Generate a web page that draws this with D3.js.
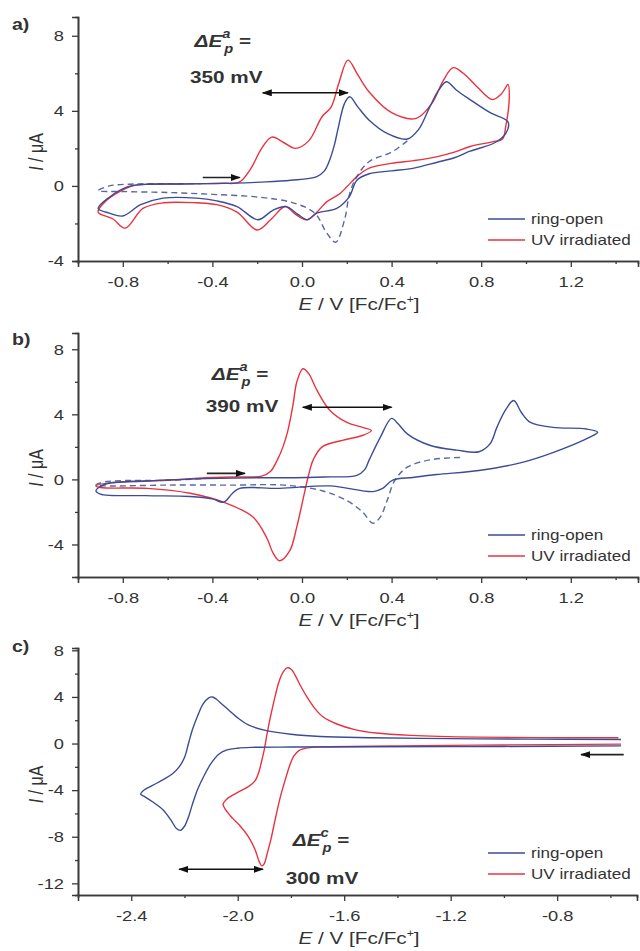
<!DOCTYPE html>
<html>
<head>
<meta charset="utf-8">
<script src="https://cdn.jsdelivr.net/npm/d3@7"></script>
<style>
  body { margin: 0; background: #fff; }
  svg text { font-family: "Liberation Sans", Arial, sans-serif; fill: #333; }
</style>
</head>
<body>
<svg id="chart" width="640" height="951"></svg>
<script>
// curves are [E (V vs Fc/Fc+), I (uA)] pairs in scan order

// a) ring-open (solid), ring-open reversed early (dashed), UV irradiated
const aOpen = [[-0.43,0.12],[-0.3,0.15],[-0.19,0.2],[-0.05,0.3],[0.066,0.5],[0.1,0.8],[0.124,1.4],[0.145,2.2],[0.16,3.0],[0.19,4.4],[0.213,4.75],[0.25,4.2],[0.30,3.5],[0.38,2.8],[0.47,2.5],[0.52,3.0],[0.57,4.2],[0.61,5.1],[0.645,5.55],[0.69,5.1],[0.75,4.6],[0.84,3.9],[0.92,3.4],[0.91,2.8],[0.86,2.3],[0.75,1.85],[0.68,1.5],[0.6,1.25],[0.5,0.95],[0.4,0.8],[0.3,0.65],[0.245,0.3],[0.21,-0.6],[0.155,-1.2],[0.066,-1.45],[0.026,-1.8],[-0.02,-1.5],[-0.07,-1.1],[-0.13,-1.3],[-0.197,-1.8],[-0.29,-1.1],[-0.38,-0.8],[-0.47,-0.65],[-0.62,-0.65],[-0.72,-1.0],[-0.8,-1.6],[-0.86,-1.45],[-0.91,-1.2],[-0.86,-0.6],[-0.78,-0.05],[-0.7,0.08],[-0.55,0.1],[-0.43,0.12]];
const aOpenDash = [[0.47,2.4],[0.40,1.8],[0.30,1.3],[0.245,0.5],[0.213,-0.4],[0.19,-1.8],[0.15,-3.0],[0.11,-2.5],[0.057,-1.45],[-0.04,-0.9],[-0.19,-0.6],[-0.4,-0.45],[-0.6,-0.35],[-0.8,-0.3],[-0.91,-0.25],[-0.86,0.0],[-0.75,0.1],[-0.6,0.12],[-0.45,0.12]];
const aUV = [[-0.43,0.12],[-0.35,0.14],[-0.28,0.2],[-0.23,0.9],[-0.18,2.0],[-0.135,2.6],[-0.08,2.3],[-0.03,2.0],[0.03,2.4],[0.09,3.7],[0.13,4.2],[0.165,5.5],[0.205,6.7],[0.25,5.9],[0.30,5.0],[0.40,3.9],[0.51,3.6],[0.58,4.4],[0.63,5.6],[0.675,6.3],[0.72,6.0],[0.78,5.3],[0.85,4.6],[0.89,4.9],[0.92,5.4],[0.925,4.6],[0.91,3.2],[0.895,2.5],[0.85,2.35],[0.75,2.1],[0.68,1.8],[0.6,1.55],[0.5,1.35],[0.4,1.2],[0.3,0.95],[0.25,0.55],[0.2,-0.05],[0.17,-0.4],[0.11,-0.85],[0.066,-1.4],[0.02,-1.8],[-0.03,-1.5],[-0.075,-1.1],[-0.14,-1.8],[-0.2,-2.35],[-0.29,-1.4],[-0.38,-1.0],[-0.47,-0.9],[-0.62,-0.9],[-0.71,-1.2],[-0.79,-2.25],[-0.845,-1.75],[-0.91,-1.4],[-0.88,-0.85],[-0.77,-0.05],[-0.7,0.08],[-0.55,0.1],[-0.43,0.12]];

// b)
const bOpen = [[-0.43,0.05],[-0.2,0.1],[-0.08,0.1],[0.1,0.15],[0.245,0.25],[0.28,0.6],[0.3,1.2],[0.35,2.6],[0.40,3.75],[0.43,3.4],[0.47,2.8],[0.57,2.1],[0.69,1.8],[0.79,1.7],[0.84,2.2],[0.87,3.2],[0.91,4.3],[0.945,4.85],[0.98,4.1],[1.02,3.5],[1.12,3.2],[1.27,3.1],[1.32,2.9],[1.285,2.6],[1.12,1.65],[0.97,1.0],[0.79,0.55],[0.6,0.3],[0.495,0.12],[0.405,-0.05],[0.36,-0.55],[0.317,-0.75],[0.124,-0.4],[-0.1,-0.55],[-0.278,-0.55],[-0.31,-0.85],[-0.35,-1.4],[-0.4,-1.2],[-0.5,-1.05],[-0.7,-1.0],[-0.9,-0.9],[-0.92,-0.7],[-0.88,-0.3],[-0.7,-0.1],[-0.43,0.05]];
const bOpenDash = [[0.705,1.35],[0.57,1.2],[0.47,0.75],[0.415,-0.05],[0.38,-1.3],[0.35,-2.3],[0.317,-2.7],[0.27,-2.0],[0.2,-1.3],[0.09,-0.7],[-0.08,-0.35],[-0.3,-0.35],[-0.6,-0.35],[-0.88,-0.4],[-0.92,-0.35],[-0.88,-0.15],[-0.6,-0.05],[-0.43,0.05]];
const bUV = [[-0.43,0.1],[-0.3,0.15],[-0.18,0.2],[-0.14,0.5],[-0.11,1.2],[-0.085,2.0],[-0.063,3.0],[-0.04,4.6],[-0.023,6.0],[0.004,6.8],[0.03,6.5],[0.066,5.5],[0.124,4.25],[0.2,3.5],[0.27,3.2],[0.31,3.0],[0.27,2.7],[0.18,2.4],[0.09,2.0],[0.05,1.2],[0.03,0.3],[0.013,-0.7],[-0.023,-2.9],[-0.055,-4.4],[-0.1,-5.0],[-0.13,-4.5],[-0.157,-3.6],[-0.22,-2.3],[-0.35,-1.4],[-0.5,-0.85],[-0.69,-0.55],[-0.9,-0.5],[-0.92,-0.4],[-0.85,-0.2],[-0.6,-0.05],[-0.43,0.1]];

// c) scanned towards negative potentials
const cOpen = [[-0.56,-0.2],[-1.0,-0.25],[-1.5,-0.28],[-1.8,-0.3],[-1.95,-0.33],[-2.0,-0.4],[-2.04,-0.55],[-2.07,-0.9],[-2.1,-1.7],[-2.125,-2.7],[-2.15,-3.9],[-2.17,-5.2],[-2.185,-6.3],[-2.2,-7.1],[-2.215,-7.45],[-2.23,-7.3],[-2.25,-6.6],[-2.28,-5.7],[-2.32,-5.0],[-2.35,-4.55],[-2.365,-4.35],[-2.355,-4.05],[-2.32,-3.6],[-2.28,-3.1],[-2.245,-2.6],[-2.22,-2.0],[-2.2,-1.2],[-2.185,0.0],[-2.17,1.2],[-2.15,2.4],[-2.13,3.4],[-2.11,3.9],[-2.095,4.0],[-2.08,3.8],[-2.06,3.4],[-2.03,2.8],[-2.0,2.2],[-1.96,1.6],[-1.9,1.15],[-1.8,0.8],[-1.69,0.6],[-1.5,0.5],[-1.2,0.42],[-0.9,0.38],[-0.56,0.35]];
const cUV = [[-0.56,-0.05],[-1.0,-0.12],[-1.4,-0.2],[-1.65,-0.28],[-1.73,-0.35],[-1.77,-0.6],[-1.79,-1.1],[-1.805,-1.9],[-1.82,-3.0],[-1.84,-4.6],[-1.86,-6.6],[-1.875,-8.2],[-1.89,-9.5],[-1.9,-10.3],[-1.91,-10.5],[-1.92,-10.1],[-1.935,-9.1],[-1.96,-8.0],[-1.99,-7.1],[-2.02,-6.4],[-2.045,-5.7],[-2.055,-5.2],[-2.04,-4.75],[-2.0,-4.2],[-1.96,-3.7],[-1.935,-3.2],[-1.92,-2.4],[-1.91,-1.5],[-1.9,-0.5],[-1.89,0.8],[-1.875,2.5],[-1.86,4.0],[-1.845,5.3],[-1.83,6.1],[-1.815,6.5],[-1.8,6.4],[-1.785,5.9],[-1.765,5.0],[-1.74,4.0],[-1.71,3.0],[-1.68,2.3],[-1.63,1.7],[-1.56,1.2],[-1.48,0.9],[-1.35,0.7],[-1.1,0.55],[-0.57,0.5]];

const xTicksAB = [-0.8, -0.4, 0, 0.4, 0.8, 1.2];
const xMinorAB = [-0.6, -0.2, 0.2, 0.6, 1.0, 1.4];
const xTicksC = [-2.4, -2.0, -1.6, -1.2, -0.8];
const xMinorC = [-2.2, -1.8, -1.4, -1.0, -0.6];
const yTicksAB = [-4, 0, 4, 8];
const yMinorA = [-2, 2, 6];
const yMinorB = [-2, 2, 6];
const yTicksC = [-12, -8, -4, 0, 4, 8];
const yMinorC = [-10, -6, -2, 2, 6];
const legendLabels = ["ring-open", "UV irradiated"];
const peakSplits = ["350 mV", "390 mV", "300 mV"];

const BLUE = "#3b4c96", RED = "#e8333f";
const S = 1.22; // the figure is stretched a bit horizontally

const svg = d3.select("#chart");

const defs = svg.append("defs");
defs.append("marker")
    .attr("id", "head")
    .attr("viewBox", "0 0 10 7")
    .attr("refX", 9).attr("refY", 3.5)
    .attr("markerWidth", 10).attr("markerHeight", 7)
    .attr("markerUnits", "userSpaceOnUse")
    .attr("orient", "auto-start-reverse")
  .append("path").attr("d", "M0,0 L10,3.5 L0,7 z").attr("fill", "#111");

function stretched(parent, x, y) {
  return parent.append("g")
      .attr("transform", "translate(" + x + "," + y + ") scale(" + S + ",1)")
    .append("text");
}

const panels = [
  { tag: "a)", tagY: 30, top: 17, bottom: 261, xDom: [-1.0, 1.5], yDom: [-4, 9], x1: 638,
    xTicks: xTicksAB, xMinor: xMinorAB, yTicks: yTicksAB, yMinor: yMinorA,
    open: aOpen, dash: aOpenDash, uv: aUV, sup: "a", split: peakSplits[0],
    label: [-0.48, 7.41], label2: [-0.50, 5.49], span: [-0.175, 0.205, 4.96], scan: [-0.443, -0.278, 0.45] },
  { tag: "b)", tagY: 345, top: 333, bottom: 577, xDom: [-1.0, 1.5], yDom: [-6, 9], x1: 638,
    xTicks: xTicksAB, xMinor: xMinorAB, yTicks: yTicksAB, yMinor: yMinorB,
    open: bOpen, dash: bOpenDash, uv: bUV, sup: "a", split: peakSplits[1],
    label: [-0.403, 6.09], label2: [-0.43, 4.12], span: [0.004, 0.40, 4.43], scan: [-0.425, -0.255, 0.37] },
  { tag: "c)", tagY: 652, top: 648, bottom: 895, xDom: [-2.6, -0.5], yDom: [-13, 8.2], x1: 637,
    xTicks: xTicksC, xMinor: xMinorC, yTicks: yTicksC, yMinor: yMinorC,
    open: cOpen, dash: null, uv: cUV, sup: "c", split: peakSplits[2],
    label: [-1.793, -8.81], label2: [-1.82, -12.05], span: [-2.22, -1.905, -10.8], scan: [-0.55, -0.71, -0.95] }
];

const X0 = 78;

panels.forEach(function(p) {
  var x = d3.scaleLinear().domain(p.xDom).range([X0, p.x1]);
  var y = d3.scaleLinear().domain(p.yDom).range([p.bottom, p.top]);
  var g = svg.append("g");

  var line = d3.line()
    .x(function(d) { return x(d[0]); })
    .y(function(d) { return y(d[1]); })
    .curve(d3.curveCatmullRom.alpha(0.5));

  // curves
  g.append("path").attr("d", line(p.uv)).attr("fill", "none").attr("stroke", RED).attr("stroke-width", 1.4);
  g.append("path").attr("d", line(p.open)).attr("fill", "none").attr("stroke", BLUE).attr("stroke-width", 1.4);
  if (p.dash) {
    g.append("path").attr("d", line(p.dash)).attr("fill", "none").attr("stroke", BLUE)
      .attr("stroke-width", 1.4).attr("stroke-dasharray", "6,4").attr("opacity", 0.85);
  }

  // axes
  var fmtX = function(d) { return d.toFixed(1); };
  var xAxis = g.append("g").attr("transform", "translate(0," + p.bottom + ")")
    .call(d3.axisBottom(x).tickValues(p.xTicks).tickFormat(fmtX).tickSize(6).tickPadding(9));
  g.append("g").attr("transform", "translate(0," + p.bottom + ")")
    .call(d3.axisBottom(x).tickValues(p.xMinor).tickFormat("").tickSize(3));
  var yAxis = g.append("g").attr("transform", "translate(" + X0 + ",0)")
    .call(d3.axisLeft(y).tickValues(p.yTicks).tickFormat(function(d) { return d.toFixed(0); }).tickSize(6).tickPadding(8));
  g.append("g").attr("transform", "translate(" + X0 + ",0)")
    .call(d3.axisLeft(y).tickValues(p.yMinor).tickFormat("").tickSize(3));

  g.selectAll(".domain").attr("stroke", "#3a3a3a").attr("stroke-width", 1.6);
  g.selectAll(".tick line").attr("stroke", "#3a3a3a").attr("stroke-width", 1.3);
  xAxis.selectAll("text").attr("font-size", 15).attr("fill", "#333")
    .attr("transform", "scale(" + S + ",1)");
  yAxis.selectAll("text").attr("font-size", 15).attr("fill", "#333")
    .attr("x", -14 / S).attr("transform", "scale(" + S + ",1)");

  // panel tag
  stretched(svg, 12, p.tagY).attr("font-size", 16).attr("font-weight", "bold").attr("fill", "#222").text(p.tag);

  // axis titles
  var yl = svg.append("g")
      .attr("transform", "translate(43," + ((p.top + p.bottom) / 2 + 13) + ") rotate(-90) scale(1," + S + ")")
    .append("text").attr("text-anchor", "middle").attr("font-size", 16);
  yl.append("tspan").attr("font-style", "italic").text("I");
  yl.append("tspan").text(" / μA");

  var xl = stretched(svg, (X0 + 640) / 2, p.bottom + 49).attr("text-anchor", "middle").attr("font-size", 17);
  xl.append("tspan").attr("font-style", "italic").text("E");
  xl.append("tspan").text(" / V [Fc/Fc");
  xl.append("tspan").attr("font-size", 10).attr("dy", -7).text("+");
  xl.append("tspan").attr("dy", 7).text("]");

  // legend
  [BLUE, RED].forEach(function(c, i) {
    var ly = p.bottom - 42 + i * 21;
    svg.append("line").attr("x1", 488).attr("x2", 525).attr("y1", ly).attr("y2", ly)
      .attr("stroke", c).attr("stroke-width", 1.4);
    stretched(svg, 531, ly + 5).attr("font-size", 14).attr("fill", "#333").text(legendLabels[i]);
  });

  // peak separation label
  var t = stretched(svg, x(p.label[0]), y(p.label[1])).attr("font-size", 17).attr("font-weight", "bold").attr("fill", "#222");
  t.append("tspan").attr("font-style", "italic").text("ΔE");
  t.append("tspan").attr("font-style", "italic").attr("font-size", 12).attr("dy", -9).text(p.sup);
  t.append("tspan").attr("font-style", "italic").attr("font-size", 12).attr("dx", -5).attr("dy", 15).text("p");
  t.append("tspan").attr("dy", -6).text(" =");
  stretched(svg, x(p.label2[0]), y(p.label2[1])).attr("font-size", 17).attr("font-weight", "bold").attr("fill", "#222").text(p.split);

  // arrows
  svg.append("line")
    .attr("x1", x(p.span[0])).attr("x2", x(p.span[1])).attr("y1", y(p.span[2])).attr("y2", y(p.span[2]))
    .attr("stroke", "#111").attr("stroke-width", 1.5)
    .attr("marker-start", "url(#head)").attr("marker-end", "url(#head)");
  svg.append("line")
    .attr("x1", x(p.scan[0])).attr("x2", x(p.scan[1])).attr("y1", y(p.scan[2])).attr("y2", y(p.scan[2]))
    .attr("stroke", "#222").attr("stroke-width", 1.6)
    .attr("marker-end", "url(#head)");
});
</script>
</body>
</html>
